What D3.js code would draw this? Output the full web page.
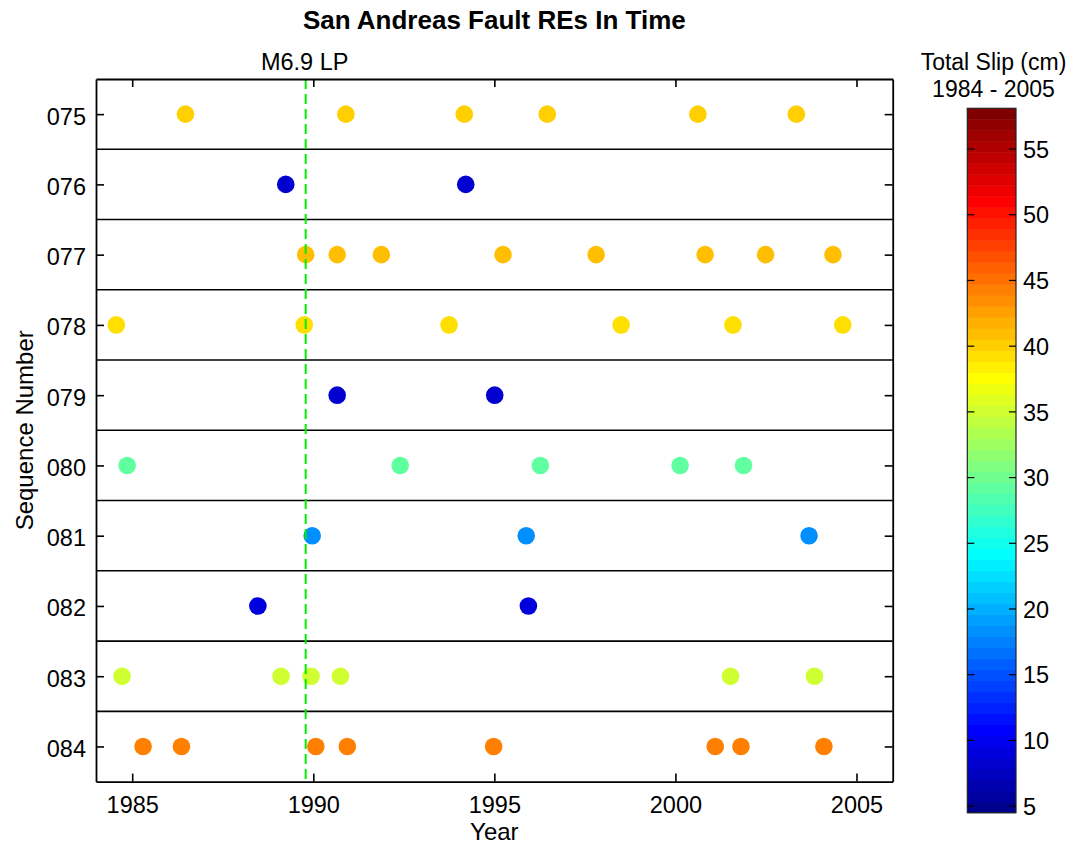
<!DOCTYPE html>
<html>
<head>
<meta charset="utf-8">
<script src="https://cdn.jsdelivr.net/npm/d3@7"></script>
<style>
  html, body { margin: 0; padding: 0; background: #fff; }
  svg text { font-family: "Liberation Sans", Arial, Helvetica, sans-serif; fill: #000; }
</style>
</head>
<body>
<svg id="chart" width="1078" height="852"></svg>
<script>
// ---------------- data ----------------
const sequences = [75, 76, 77, 78, 79, 80, 81, 82, 83, 84];
const sequenceLabels = ["075", "076", "077", "078", "079", "080", "081", "082", "083", "084"];
// total slip (cm) per sequence, 1984-2005
const totalSlip = [40.2, 8.3, 41.0, 39.2, 8.3, 29.2, 18.3, 9.1, 35.0, 44.3];
// event times (decimal year) per sequence
const events075 = [1986.47, 1990.90, 1994.17, 1996.46, 2000.62, 2003.34];
const events076 = [1989.24, 1994.21];
const events077 = [1989.79, 1990.66, 1991.88, 1995.24, 1997.81, 2000.82, 2002.49, 2004.35];
const events078 = [1984.56, 1989.75, 1993.75, 1998.50, 2001.59, 2004.62];
const events079 = [1990.66, 1995.01];
const events080 = [1984.86, 1992.40, 1996.27, 2000.13, 2001.88];
const events081 = [1989.97, 1995.88, 2003.69];
const events082 = [1988.47, 1995.94];
const events083 = [1984.72, 1989.11, 1989.94, 1990.75, 2001.52, 2003.84];
const events084 = [1985.30, 1986.36, 1990.07, 1990.94, 1994.98, 2001.10, 2001.81, 2004.10];
const eventTimes = [events075, events076, events077, events078, events079,
                    events080, events081, events082, events083, events084];
const yearTicks = [1985, 1990, 1995, 2000, 2005];
const slipTicks = [5, 10, 15, 20, 25, 30, 35, 40, 45, 50, 55];
const slipRange = [4.5, 58.1];
const lomaPrieta = 1989.79;
const lomaPrietaLabel = "M6.9 LP";

// ---------------- layout ----------------
const svg = d3.select("#chart");
const plot = { left: 96, right: 892.7, top: 79, bottom: 781.6 };
const cbar = { left: 967.3, right: 1016, top: 108.3, bottom: 812.7 };

const x = d3.scaleLinear().domain([1984, 2006]).range([plot.left, plot.right]);
const y = d3.scaleLinear().domain([74.5, 84.5]).range([plot.top, plot.bottom]);

// MATLAB jet(64)
function jetRGB(t) {
  const c = v => Math.max(0, Math.min(1, v));
  return d3.rgb(255 * c(1.5 - Math.abs(4 * t - 3)),
                255 * c(1.5 - Math.abs(4 * t - 2)),
                255 * c(1.5 - Math.abs(4 * t - 1)));
}
const jet64 = d3.range(1, 65).map(i => jetRGB(i / 64).formatHex());
const color = d3.scaleQuantize().domain(slipRange).range(jet64);

// ---------------- separators ----------------
const g = svg.append("g");
g.selectAll("line.sep")
  .data(d3.range(75.5, 84.5, 1))
  .join("line")
  .attr("class", "sep")
  .attr("x1", plot.left).attr("x2", plot.right)
  .attr("y1", d => y(d)).attr("y2", d => y(d))
  .attr("stroke", "#000").attr("stroke-width", 1.6);

// ---------------- points ----------------
const points = [];
sequences.forEach((s, i) => eventTimes[i].forEach(t => points.push({ seq: s, t: t, slip: totalSlip[i] })));
g.selectAll("circle.ev")
  .data(points)
  .join("circle")
  .attr("class", "ev")
  .attr("cx", d => x(d.t)).attr("cy", d => y(d.seq))
  .attr("r", 8.8)
  .attr("fill", d => color(d.slip));

// ---------------- Loma Prieta line ----------------
g.append("line")
  .attr("x1", x(lomaPrieta)).attr("x2", x(lomaPrieta))
  .attr("y1", plot.top).attr("y2", plot.bottom)
  .attr("stroke", "#00ee00").attr("stroke-width", 2)
  .attr("stroke-dasharray", "10,5");
svg.append("text")
  .attr("x", x(lomaPrieta) - 1).attr("y", 70)
  .attr("text-anchor", "middle").attr("font-size", 23.5)
  .text(lomaPrietaLabel);

// ---------------- axes ----------------
const axB = svg.append("g").attr("transform", `translate(0,${plot.bottom})`)
  .call(d3.axisBottom(x).tickValues(yearTicks).tickFormat(d3.format("d"))
        .tickSizeInner(-8).tickSizeOuter(0).tickPadding(15));
const axT = svg.append("g").attr("transform", `translate(0,${plot.top})`)
  .call(d3.axisTop(x).tickValues(yearTicks).tickFormat("")
        .tickSizeInner(-8).tickSizeOuter(0));
const axL = svg.append("g").attr("transform", `translate(${plot.left},0)`)
  .call(d3.axisLeft(y).tickValues(sequences).tickFormat((d, i) => sequenceLabels[i])
        .tickSizeInner(-8).tickSizeOuter(0).tickPadding(10));
const axR = svg.append("g").attr("transform", `translate(${plot.right},0)`)
  .call(d3.axisRight(y).tickValues(sequences).tickFormat("")
        .tickSizeInner(-8).tickSizeOuter(0));
[axB, axT, axL, axR].forEach(a => {
  a.select(".domain").attr("stroke", "#000").attr("stroke-width", 1.8);
  a.selectAll(".tick line").attr("stroke", "#000").attr("stroke-width", 1.6);
  a.selectAll(".tick text").attr("font-size", 23.5).attr("fill", "#000")
    .attr("font-family", "Liberation Sans, Arial, sans-serif");
});
axL.selectAll(".tick text").attr("dy", "0.42em");

// ---------------- titles ----------------
svg.append("text")
  .attr("x", (plot.left + plot.right) / 2).attr("y", 29)
  .attr("text-anchor", "middle").attr("font-size", 26).attr("font-weight", "bold")
  .text("San Andreas Fault REs In Time");
svg.append("text")
  .attr("x", (plot.left + plot.right) / 2).attr("y", 840)
  .attr("text-anchor", "middle").attr("font-size", 24)
  .text("Year");
svg.append("text")
  .attr("transform", `translate(33,${(plot.top + plot.bottom) / 2}) rotate(-90)`)
  .attr("text-anchor", "middle").attr("font-size", 24)
  .text("Sequence Number");

// ---------------- colorbar ----------------
const cy = d3.scaleLinear().domain(slipRange).range([cbar.bottom, cbar.top]);
const cb = svg.append("g");
const step = (slipRange[1] - slipRange[0]) / 64;
cb.selectAll("rect.band")
  .data(jet64)
  .join("rect")
  .attr("class", "band")
  .attr("x", cbar.left).attr("width", cbar.right - cbar.left)
  .attr("y", (d, i) => cy(slipRange[0] + (i + 1) * step))
  .attr("height", (d, i) => cy(slipRange[0] + i * step) - cy(slipRange[0] + (i + 1) * step) + 0.5)
  .attr("fill", d => d);
cb.append("rect")
  .attr("x", cbar.left).attr("y", cbar.top)
  .attr("width", cbar.right - cbar.left).attr("height", cbar.bottom - cbar.top)
  .attr("fill", "none").attr("stroke", "#222").attr("stroke-width", 1.2);
const ct = cb.selectAll("g.ct").data(slipTicks).join("g").attr("class", "ct");
ct.append("line").attr("x1", cbar.left).attr("x2", cbar.left + 7)
  .attr("y1", d => cy(d)).attr("y2", d => cy(d)).attr("stroke", "#000").attr("stroke-width", 1.2);
ct.append("line").attr("x1", cbar.right - 7).attr("x2", cbar.right)
  .attr("y1", d => cy(d)).attr("y2", d => cy(d)).attr("stroke", "#000").attr("stroke-width", 1.2);
ct.append("text").attr("x", cbar.right + 7).attr("y", d => cy(d)).attr("dy", "0.37em")
  .attr("font-size", 23.5).text(d => d);
svg.append("text").attr("x", 993.5).attr("y", 70).attr("text-anchor", "middle")
  .attr("font-size", 23).text("Total Slip (cm)");
svg.append("text").attr("x", 993.5).attr("y", 97).attr("text-anchor", "middle")
  .attr("font-size", 23).text("1984 - 2005");
</script>
</body>
</html>
